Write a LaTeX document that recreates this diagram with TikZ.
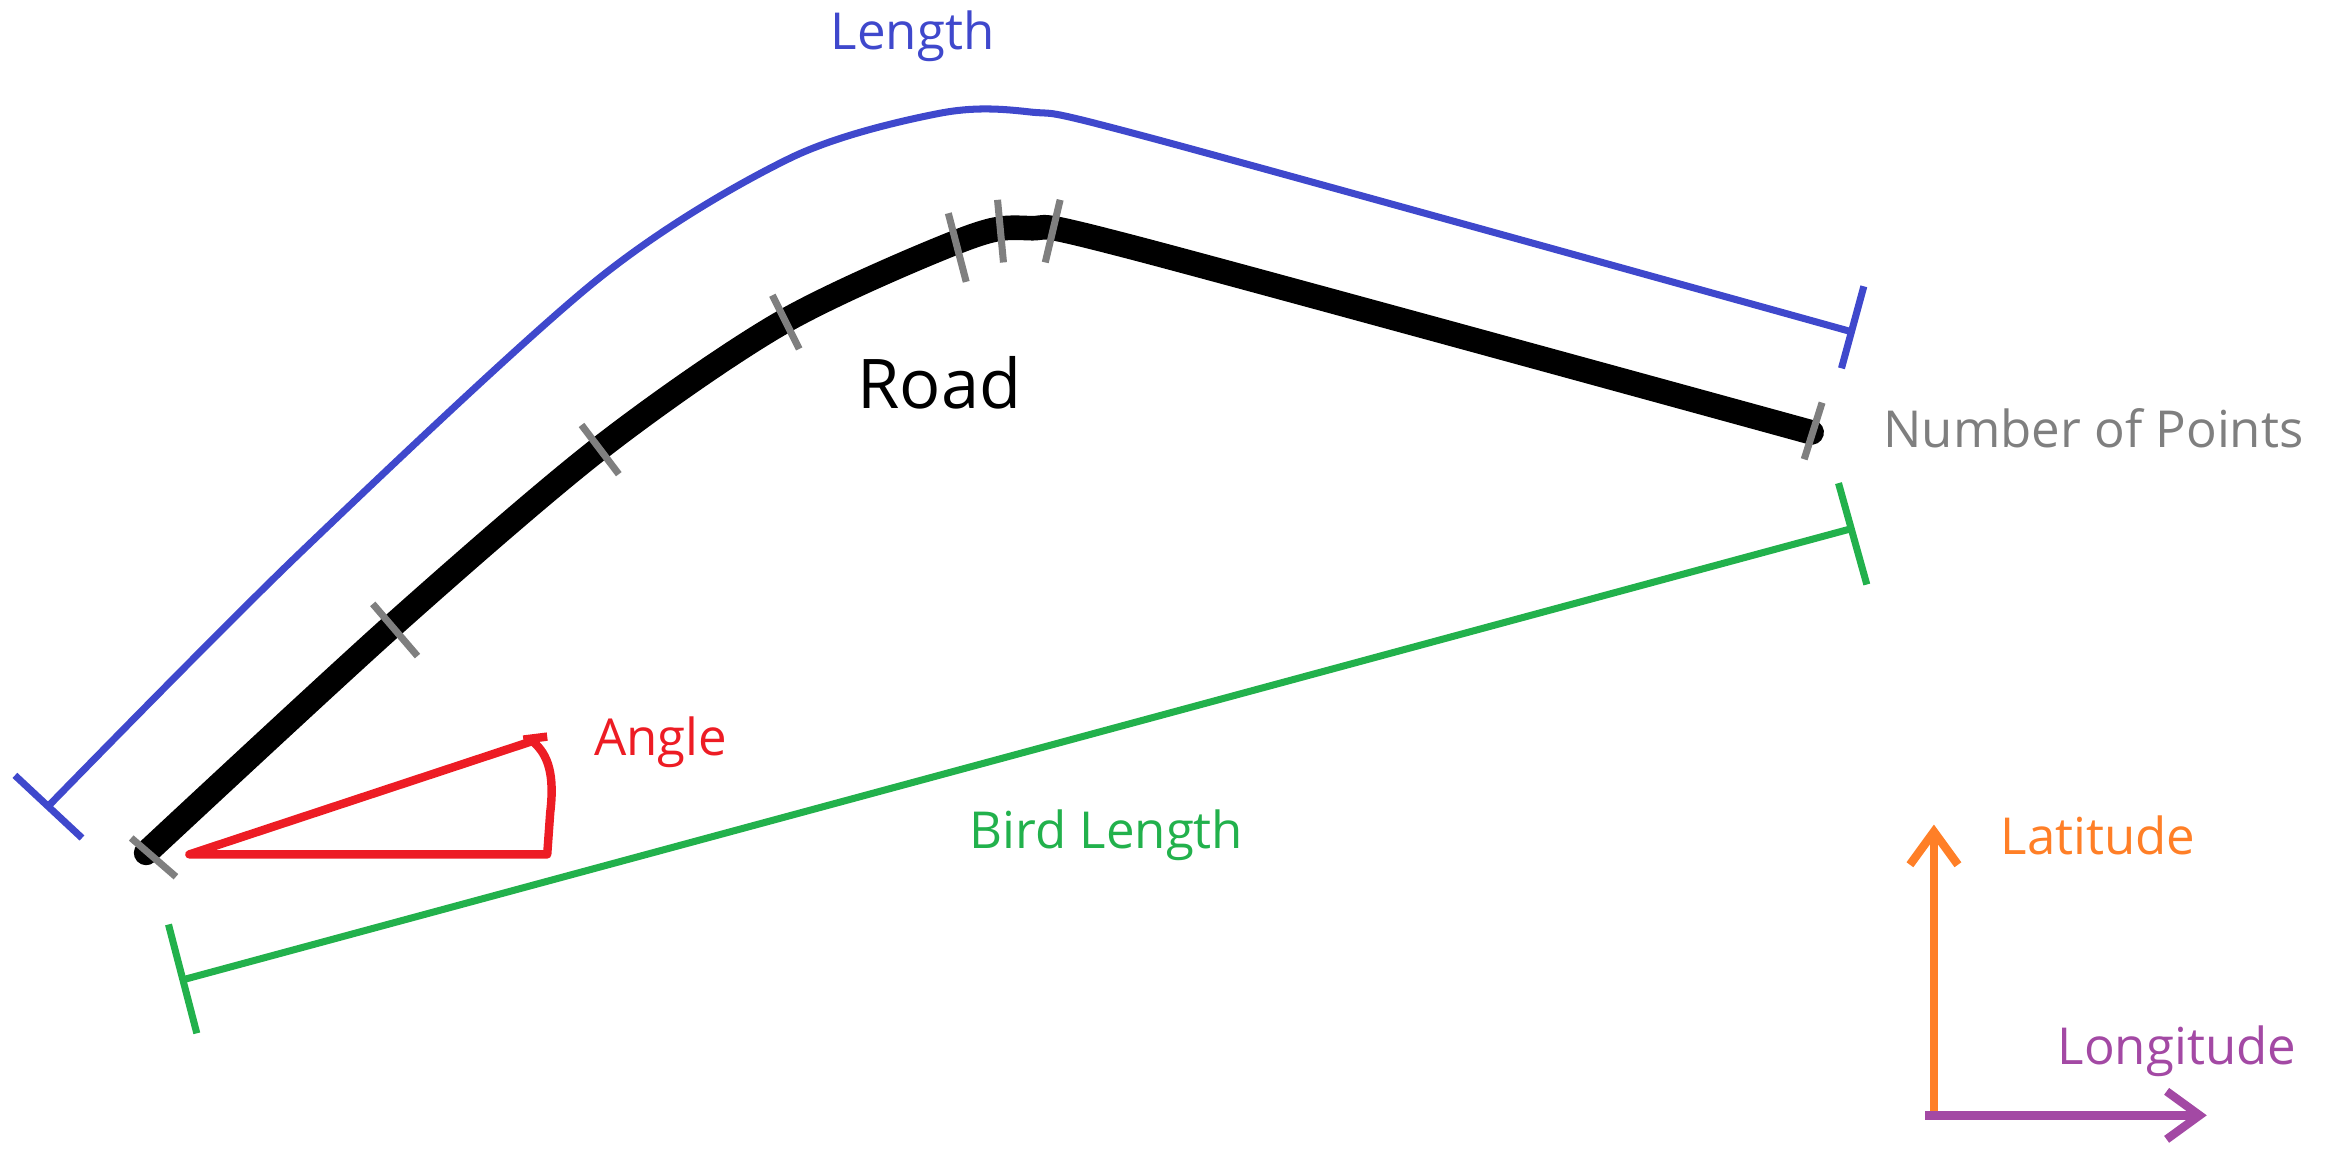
\documentclass[tikz,border=0pt]{standalone}
\usepackage{fontspec}
\setmainfont{Open Sans}
\usetikzlibrary{arrows.meta}

\definecolor{lenblue}{HTML}{3F48CC}
\definecolor{birdgreen}{HTML}{22B14C}
\definecolor{anglered}{HTML}{ED1C24}
\definecolor{latorange}{HTML}{FF7F27}
\definecolor{lonpurple}{HTML}{A349A4}
\definecolor{pointgray}{HTML}{7F7F7F}

\begin{document}
\begin{tikzpicture}[
    x=0.1491mm, y=-0.1491mm,
    every node/.style={font=\fontsize{14.5}{17}\selectfont,inner sep=0pt},
    road/.style={line width=7pt,line cap=round,line join=round},
    pointmark/.style={draw=pointgray,line width=2pt},
    measure/.style={line width=2pt},
    axis/.style={line width=2.4pt,-{Straight Barb[length=3.3mm,width=4.8mm]}}
]
\useasboundingbox (0,0) rectangle (1568,772);

% road and its points
\draw[road] plot[smooth,tension=0.5] coordinates {(98,572) (265,418) (403,300) (525,216) (645,161) (690,153) (760,166) (1215,290)};
\draw[pointmark] (88,562) -- (118,588);
\draw[pointmark] (250,405) -- (280,440);
\draw[pointmark] (390,285) -- (415,318);
\draw[pointmark] (518,198) -- (536,234);
\draw[pointmark] (636,143) -- (648,189);
\draw[pointmark] (669,134) -- (673,176);
\draw[pointmark] (711,134) -- (701,176);
\draw[pointmark] (1222,270) -- (1210,308);
\node (road) at (630,257) {\fontsize{19.5}{23}\selectfont Road};
\node[text=pointgray] (points) at (1404,287) {Number of Points};

% length along the road
\draw[measure,lenblue] plot[smooth,tension=0.5] coordinates {(33,540) (200,372) (400,188) (530,106) (630,76) (690,75) (770,92) (1240,222)};
\draw[measure,lenblue] (10,520) -- (55,562);
\draw[measure,lenblue] (1250,192) -- (1235,247);
\node[text=lenblue] (length) at (612,24) {Length};

% bird length
\coordinate (b1) at (123,657);
\coordinate (b2) at (1240,355);
\draw[measure,birdgreen] (b1) -- (b2);
\draw[measure,birdgreen] (113,620) -- (132,693);
\draw[measure,birdgreen] (1233,324) -- (1252,392);
\node[text=birdgreen] (bird) at (742,560) {Bird Length};

% angle
\draw[anglered,line width=2.4pt,line join=round] (127,573) -- (367,573) -- (369,545) .. controls (372,520) and (368,506) .. (357,497) -- cycle;
\draw[anglered,line width=2.4pt] (351,496) -- (367,494);
\node[text=anglered] (angle) at (443,498) {Angle};

% axes
\coordinate (origin) at (1297,748);
\coordinate (north) at (1297,553);
\coordinate (east) at (1480,748);
\draw[axis,latorange] (origin) -- (north);
\draw[axis,lonpurple] ([xshift=-2.4pt]origin) -- (east);
\node[text=latorange] (lat) at (1407,560) {Latitude};
\node[text=lonpurple] (lon) at (1460,705) {Longitude};
\end{tikzpicture}
\end{document}
